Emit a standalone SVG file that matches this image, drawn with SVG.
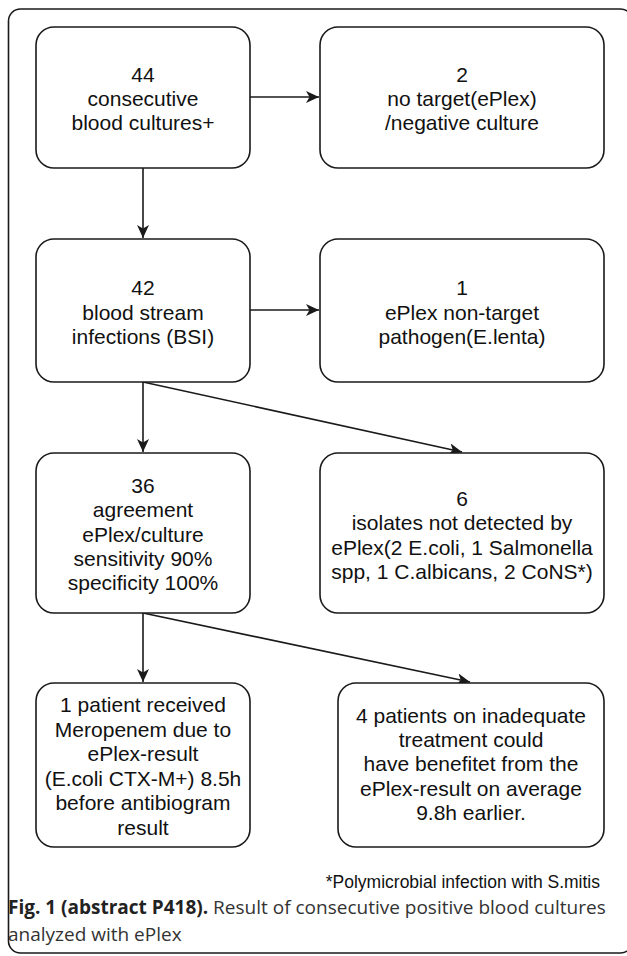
<svg xmlns="http://www.w3.org/2000/svg" width="627" height="956" viewBox="0 0 627 956">
<style>
.box{fill:#fff;stroke:#1a1a1a;stroke-width:1.6}
.t{font-family:"Liberation Sans",Arial,sans-serif;font-size:21px;fill:#111;text-anchor:middle}
.c{fill:none;stroke:#1a1a1a;stroke-width:1.6;marker-end:url(#ah)}
.frame{fill:none;stroke:#1a1a1a;stroke-width:1.6}
.fn{font-family:"Liberation Sans",Arial,sans-serif;font-size:17.5px;fill:#111}
.cap{font-family:"Open Sans","Noto Sans",sans-serif;font-size:19px;fill:#333}
</style>
<defs>
<marker id="ah" markerWidth="14" markerHeight="12" refX="13" refY="6" orient="auto" markerUnits="userSpaceOnUse">
<path d="M0,0 L13,6 L0,12 L3.5,6 Z" fill="#1a1a1a"/>
</marker>
</defs>
<rect width="627" height="956" fill="#fff"/>
<rect class="frame" x="8.5" y="9" width="624" height="944" rx="12"/>
<g id="connectors">
<line class="c" x1="250" y1="97" x2="319" y2="97"/>
<line class="c" x1="143" y1="168" x2="143" y2="238"/>
<line class="c" x1="250" y1="310" x2="319" y2="310"/>
<line class="c" x1="143" y1="382" x2="143" y2="452"/>
<line class="c" x1="143" y1="382" x2="462" y2="452"/>
<line class="c" x1="143" y1="613" x2="143" y2="682"/>
<line class="c" x1="143" y1="613" x2="470" y2="682"/>
</g>
<g id="n1">
<rect class="box" x="36" y="27" width="214" height="141" rx="18"/>
<text class="t" x="143" y="82">44</text>
<text class="t" x="143" y="106">consecutive</text>
<text class="t" x="143" y="130">blood cultures+</text>
</g>
<g id="n2">
<rect class="box" x="320" y="27" width="284" height="141" rx="18"/>
<text class="t" x="462" y="82">2</text>
<text class="t" x="462" y="106">no target(ePlex)</text>
<text class="t" x="462" y="130">/negative culture</text>
</g>
<g id="n3">
<rect class="box" x="36" y="239" width="214" height="143" rx="18"/>
<text class="t" x="143" y="295">42</text>
<text class="t" x="143" y="320">blood stream</text>
<text class="t" x="143" y="344">infections (BSI)</text>
</g>
<g id="n4">
<rect class="box" x="320" y="239" width="284" height="143" rx="18"/>
<text class="t" x="462" y="295">1</text>
<text class="t" x="462" y="320">ePlex non-target</text>
<text class="t" x="462" y="344">pathogen(E.lenta)</text>
</g>
<g id="n5">
<rect class="box" x="36" y="453" width="214" height="160" rx="18"/>
<text class="t" x="143" y="493">36</text>
<text class="t" x="143" y="517">agreement</text>
<text class="t" x="143" y="542">ePlex/culture</text>
<text class="t" x="143" y="566">sensitivity 90%</text>
<text class="t" x="143" y="590">specificity 100%</text>
</g>
<g id="n6">
<rect class="box" x="320" y="453" width="284" height="160" rx="18"/>
<text class="t" x="462" y="506">6</text>
<text class="t" x="462" y="530">isolates not detected by</text>
<text class="t" x="462" y="555">ePlex(2 E.coli, 1 Salmonella</text>
<text class="t" x="462" y="579">spp, 1 C.albicans, 2 CoNS*)</text>
</g>
<g id="n7">
<rect class="box" x="36" y="683" width="214" height="164" rx="18"/>
<text class="t" x="143" y="712">1 patient received</text>
<text class="t" x="143" y="737">Meropenem due to</text>
<text class="t" x="143" y="761">ePlex-result</text>
<text class="t" x="143" y="786">(E.coli CTX-M+) 8.5h</text>
<text class="t" x="143" y="810">before antibiogram</text>
<text class="t" x="143" y="835">result</text>
</g>
<g id="n8">
<rect class="box" x="338" y="683" width="266" height="164" rx="18"/>
<text class="t" x="471" y="723">4 patients on inadequate</text>
<text class="t" x="471" y="747">treatment could</text>
<text class="t" x="471" y="771">have benefitet from the</text>
<text class="t" x="471" y="796">ePlex-result on average</text>
<text class="t" x="471" y="820">9.8h earlier.</text>
</g>
<text class="fn" x="600" y="888" text-anchor="end">*Polymicrobial infection with S.mitis</text>
<text class="cap" x="8" y="914"><tspan font-weight="bold" fill="#222">Fig. 1 (abstract P418).</tspan> Result of consecutive positive blood cultures</text>
<text class="cap" x="8" y="941">analyzed with ePlex</text>
</svg>
